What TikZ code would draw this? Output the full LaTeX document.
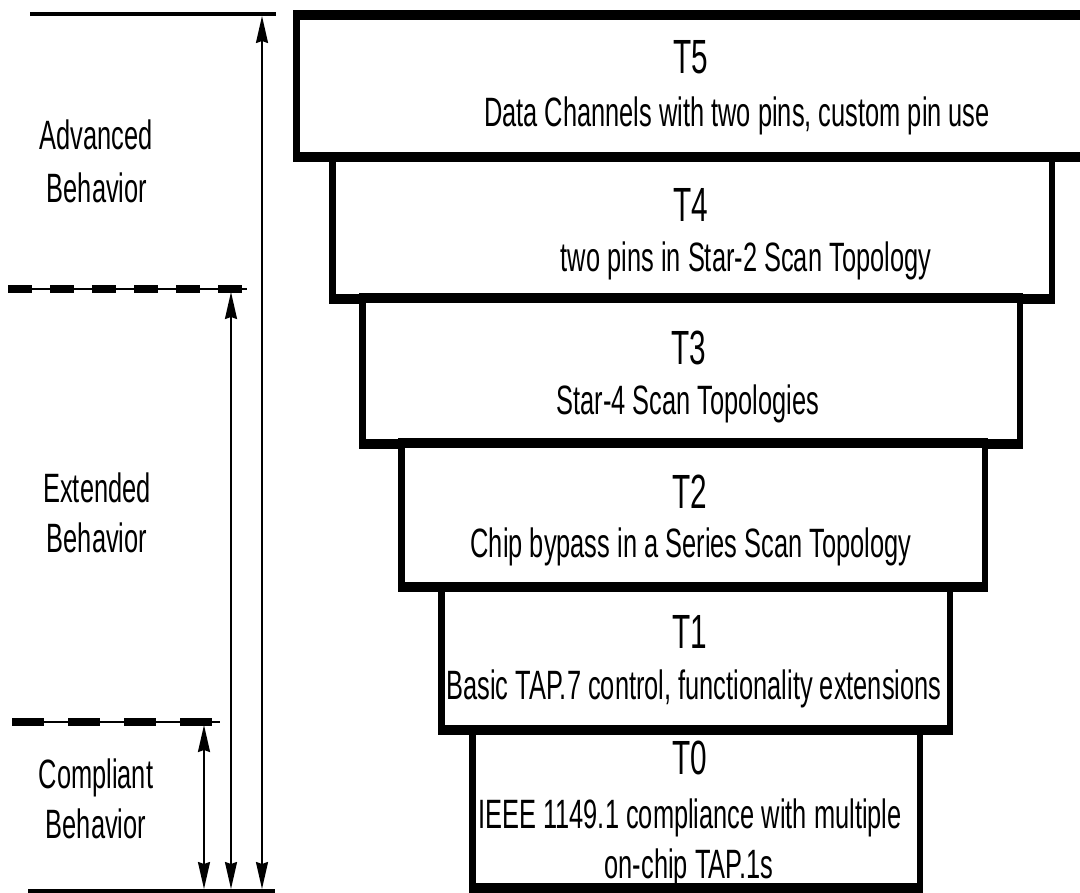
\documentclass[tikz,border=0pt]{standalone}
\usepackage{fontspec}
\setmainfont[FakeStretch=0.62]{Liberation Sans}
\usetikzlibrary{arrows.meta,calc}

% A tier: black outer block with a white face; side walls thinner than top/bottom
\newcommand{\tierbox}[5]{%
  \fill[black] (#2,#3) rectangle (#4,#5);
  \fill[white] ($(#2,#3)+(6.5,10)$) rectangle ($(#4,#5)+(-6.5,-10)$);
  \coordinate (#1) at ($(#2,#3)!0.5!(#4,#5)$);}

\begin{document}
\begin{tikzpicture}[x=1pt,y=-1pt,
  ttl/.style={anchor=base, inner sep=0pt, font=\fontsize{48}{56}\selectfont},
  sub/.style={anchor=base, inner sep=0pt, font=\fontsize{41}{50}\selectfont},
  side/.style={anchor=base, inner sep=0pt, font=\fontsize{41}{50}\selectfont},
  rule/.style={line width=3.5pt},
  thinrule/.style={line width=2.5pt},
  dashA/.style={line width=8pt, dash pattern=on 24pt off 18pt},
  dashB/.style={line width=8pt, dash pattern=on 32pt off 24pt},
  tip/.tip={Stealth[length=27pt,width=12pt,inset=2pt]},
  span/.style={line width=2pt, tip-tip},
]
\clip (0,0) rectangle (1080,893);
\fill[white] (0,0) rectangle (1080,893);

% ---- tiers, top to bottom ----
\tierbox{t5}{293}{10}{1095}{162}
\tierbox{t4}{329}{152}{1055}{304}
\tierbox{t3}{359}{293}{1023}{449}
\tierbox{t2}{398}{438}{988}{592}
\tierbox{t1}{438}{582}{953}{735}
\tierbox{t0}{469}{725}{923}{893}

\node[ttl] (t5t) at (691,74) {T5};
\node[sub] (t5s) at (737,127) {Data Channels with two pins, custom pin use};
\node[ttl] (t4t) at (691,222) {T4};
\node[sub] (t4s) at (746,272) {two pins in Star-2 Scan Topology};
\node[ttl] (t3t) at (689,365) {T3};
\node[sub] (t3s) at (688,415) {Star-4 Scan Topologies};
\node[ttl] (t2t) at (690,508) {T2};
\node[sub] (t2s) at (691,557) {Chip bypass in a Series Scan Topology};
\node[ttl] (t1t) at (690,648) {T1};
\node[sub] (t1s) at (694,699) {Basic TAP.7 control, functionality extensions};
\node[ttl] (t0t) at (690,774) {T0};
\node[sub] (t0s) at (690,828) {IEEE 1149.1 compliance with multiple};
\node[sub] (t0u) at (689,878) {on-chip TAP.1s};

% ---- behaviour bands on the left ----
\coordinate (topL) at (30,14);   \coordinate (topR) at (276,14);
\coordinate (midL) at (8,289);   \coordinate (midR) at (247,289);
\coordinate (lowL) at (12,722);  \coordinate (lowR) at (220,722);
\coordinate (botL) at (28,891);  \coordinate (botR) at (275,891);

\draw[rule] (topL) -- (topR);
\draw[thinrule] (midL) -- (midR);
\draw[dashA] (midL) -- (midR);
\draw[thinrule] (lowL) -- (lowR);
\draw[dashB] (lowL) -- (lowR);
\draw[rule] (botL) -- (botR);

\coordinate (aTop) at (262,16);  \coordinate (aBot) at (262,889);
\coordinate (eTop) at (231,292); \coordinate (eBot) at (231,889);
\coordinate (cTop) at (204,725); \coordinate (cBot) at (204,889);
\draw[span] (aTop) -- (aBot);
\draw[span] (eTop) -- (eBot);
\draw[span] (cTop) -- (cBot);

\node[side] (adv1) at (96,150) {Advanced};
\node[side] (adv2) at (97,203) {Behavior};
\node[side] (ext1) at (97,502) {Extended};
\node[side] (ext2) at (97,552) {Behavior};
\node[side] (cmp1) at (96,788) {Compliant};
\node[side] (cmp2) at (96,838) {Behavior};
\end{tikzpicture}
\end{document}
